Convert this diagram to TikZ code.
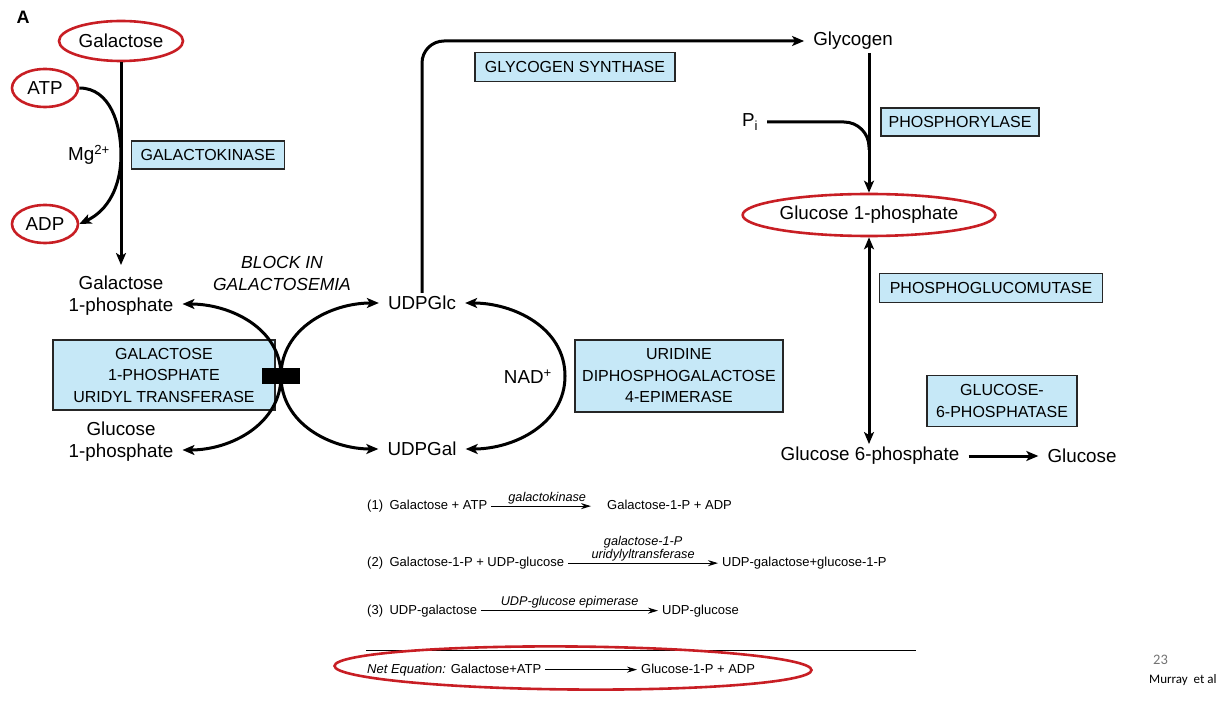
\documentclass[tikz,border=0pt]{standalone}
\usepackage{fontspec}
\setmainfont{Liberation Sans}
\newfontfamily\slidefont{Carlito}
\usetikzlibrary{positioning, calc, arrows.meta, shapes.geometric}
\definecolor{enzblue}{RGB}{198,232,247}
\definecolor{ringred}{RGB}{200,30,36}

\begin{document}
\begin{tikzpicture}[
		x=1pt, y=1pt,
		% --- estilos ---
		metab/.style={
			font=\fontsize{18.8}{22}\selectfont,
			align=center,
			inner xsep=9pt,
			inner ysep=3pt
		},
		enzyme/.style={
			rectangle,
			draw=black!85,
			fill=enzblue,
			line width=1.2pt,
			align=center,
			font=\fontsize{16}{21.5}\selectfont,
			inner sep=2pt
		},
		ring/.style={
			ellipse,
			draw=ringred,
			line width=2.6pt,
			inner sep=0pt
		},
		flow/.style={
			-{Stealth[length=12pt, width=10pt, inset=3pt]},
			line width=3pt
		},
		flowtwo/.style={
			{Stealth[length=12pt, width=10pt, inset=3pt]}-{Stealth[length=12pt, width=10pt, inset=3pt]},
			line width=3pt
		},
		eqtext/.style={
			font=\fontsize{13}{15}\selectfont,
			inner xsep=4pt,
			inner ysep=2pt,
			anchor=base west
		},
		eqlabel/.style={
			font=\fontsize{12.7}{13}\selectfont\itshape,
			align=center,
			inner sep=1pt
		},
		eqarrow/.style={
			-{Stealth[length=10pt, width=6pt]},
			line width=0.9pt
		}
		]
		
		\useasboundingbox (0,0) rectangle (1220,-708);
		
		% --- GALACTOSA ---
		\node[font=\bfseries\fontsize{18}{20}\selectfont] (panelA) at (23,-17) {A};
		\node[metab, ring, minimum width=124pt, minimum height=40pt] (gal) at (121,-41) {Galactose};
		\node[metab, ring, minimum width=66pt, minimum height=38pt] (atp) at (45,-88) {ATP};
		\node[metab, ring, minimum width=66pt, minimum height=38pt] (adp) at (45,-224) {ADP};
		\node[metab] (gal1p) at (121,-296) {Galactose\\1-phosphate};
		\coordinate (mgjoin) at (121,-155);
		\draw[flow] (gal.south) -- ([yshift=8pt]gal1p.north);
		\draw[flow] (atp.east) to[out=0, in=90] (mgjoin) to[out=-90, in=25] (adp.east);
		\node[metab, anchor=east] (mg) at (119,-155) {Mg\textsuperscript{2+}};
		\node[enzyme, minimum width=153pt, minimum height=28pt] (gk) at (208,-155) {GALACTOKINASE};
		
		% --- TRANSFERASA ---
		\node[metab, font=\itshape\fontsize{17.5}{22}\selectfont] (block) at (282,-273) {BLOCK IN\\GALACTOSEMIA};
		\node[metab] (udpglc) at (422,-303) {UDPGlc};
		\node[metab] (udpgal) at (422,-449) {UDPGal};
		\node[metab] (glc1pl) at (121,-442) {Glucose\\1-phosphate};
		\node[enzyme, minimum width=222pt, minimum height=70pt] (gput) at (164,-375) {GALACTOSE\\1-PHOSPHATE\\URIDYL TRANSFERASE};
		\coordinate (xmid) at (281,-376);
		\draw[flow] (xmid) to[out=90, in=0] ([yshift=-8pt]gal1p.east);
		\draw[flow] (xmid) to[out=90, in=180] (udpglc.west);
		\draw[flow] (xmid) to[out=-90, in=0] ([yshift=-8pt]glc1pl.east);
		\draw[flow] (xmid) to[out=-90, in=180] (udpgal.west);
		\node[fill=black, minimum width=38pt, minimum height=16pt, inner sep=0pt] (blk) at (xmid) {};
		
		% --- EPIMERASA ---
		\coordinate (nadtip) at (565,-376);
		\draw[flowtwo] (udpglc.east) to[out=0, in=90] (nadtip) to[out=-90, in=0] (udpgal.east);
		\node[metab, anchor=east] (nad) at (561,-377) {NAD\textsuperscript{+}};
		\node[enzyme, minimum width=208pt, minimum height=72pt] (epim) at (679,-376) {URIDINE\\DIPHOSPHOGALACTOSE\\4-EPIMERASE};
		
		% --- GLUCOGENO ---
		\node[metab] (glycogen) at (853,-41) {Glycogen};
		\draw[flow, rounded corners=22pt] (udpglc.north) |- (glycogen.west);
		\node[enzyme, minimum width=200pt, minimum height=29pt] (gs) at (575,-67) {GLYCOGEN SYNTHASE};
		\node[metab, ring, minimum width=226pt, minimum height=42pt] (g1p) at (869,-215) {Glucose 1-phosphate};
		\draw[flow] (glycogen.south -| g1p.north) -- (g1p.north);
		\node[metab] (pi) at (750,-122) {P\textsubscript{i}};
		\coordinate (pijoin) at (869,-150);
		\draw[line width=3pt, rounded corners=25pt] (pi.east) -| (pijoin);
		\node[enzyme, minimum width=158pt, minimum height=28pt] (phos) at (960,-122) {PHOSPHORYLASE};
		
		% --- GLUCOSA 6-FOSFATO ---
		\node[metab] (g6p) at (870,-456) {Glucose 6-phosphate};
		\draw[flowtwo] (g1p.south) -- (g1p.south |- g6p.north);
		\node[metab] (glucose) at (1082,-456) {Glucose};
		\draw[flow] (g6p.east) -- (glucose.west);
		\node[enzyme, minimum width=223pt, minimum height=29pt] (pgm) at (991,-288) {PHOSPHOGLUCOMUTASE};
		\node[enzyme, minimum width=150pt, minimum height=51pt] (g6pase) at (1002,-401) {GLUCOSE-\\6-PHOSPHATASE};
		
		% --- ECUACIONES ---
		\node[eqtext] (r1l) at (363,-509.5) {(1)\enspace Galactose + ATP};
		\node[eqtext] (r1r) at (603,-509.5) {Galactose-1-P + ADP};
		\draw[eqarrow, shorten >=12pt] (r1l.east) -- node[eqlabel, above=1pt] {galactokinase} (r1l.east -| r1r.west);
		
		\node[eqtext] (r2l) at (363,-566.5) {(2)\enspace Galactose-1-P + UDP-glucose};
		\node[eqtext] (r2r) at (718,-566.5) {UDP-galactose+glucose-1-P};
		\draw[eqarrow] (r2l.east) -- node[eqlabel, above=1pt] {galactose-1-P\\uridylyltransferase} (r2l.east -| r2r.west);
		
		\node[eqtext] (r3l) at (363,-614) {(3)\enspace UDP-galactose};
		\node[eqtext] (r3r) at (658,-614) {UDP-glucose};
		\draw[eqarrow] (r3l.east) -- node[eqlabel, above=1pt] {UDP-glucose epimerase} (r3l.east -| r3r.west);
		
		\coordinate (rulel) at (366,-650);
		\coordinate (ruler) at (916,-650);
		\draw[line width=1pt] (rulel) -- (ruler);
		
		\node[eqtext] (rnl) at (363,-673) {\textit{Net Equation:} Galactose+ATP};
		\node[eqtext] (rnr) at (637,-673) {Glucose-1-P + ADP};
		\draw[eqarrow] (rnl.east) -- (rnl.east -| rnr.west);
		\node[ring, minimum width=477pt, minimum height=43pt, rotate=-0.5] (netring) at (573,-668) {};
		
		% --- PIE ---
		\node[font=\slidefont\fontsize{14.5}{16}\selectfont, text=black!55, anchor=base west, inner sep=0pt] (pagenum) at (1153,-664) {23};
		\node[font=\slidefont\fontsize{13}{15}\selectfont, anchor=base west, inner sep=0pt] (credit) at (1149,-683) {Murray\ \ et al};
		
	\end{tikzpicture}
\end{document}
